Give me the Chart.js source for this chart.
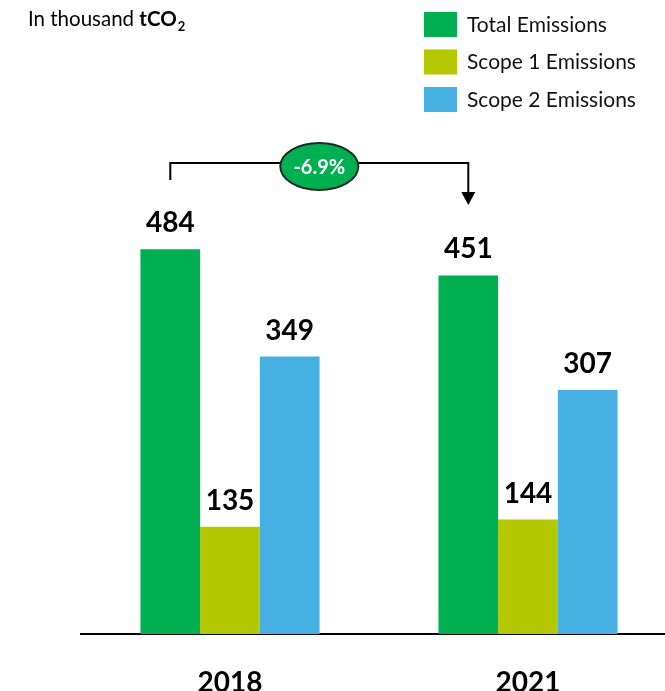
<!DOCTYPE html>
<html>
<head>
<meta charset="utf-8">
<script src="https://cdn.jsdelivr.net/npm/chart.js@4/dist/chart.umd.min.js"></script>
<style>
    html, body { margin: 0; padding: 0; overflow: hidden; background: #fff; }
    #wrap { width: 680px; height: 691px; position: relative; }
</style>
</head>
<body>
<div id="wrap"><canvas id="emissionsChart"></canvas></div>
<script>
const years = ['2018', '2021'];
const seriesNames = ['Total Emissions', 'Scope 1 Emissions', 'Scope 2 Emissions'];
const totalEmissions = [484, 451];
const scope1Emissions = [135, 144];
const scope2Emissions = [349, 307];
const changeLabel = '-6.9%';

const colors = ['#00b050', '#b4c800', '#45b0e1'];
const FONT = 'Lato, "Open Sans", sans-serif';

// Title, legend, value labels and the 2018 -> 2021 change bracket.
const decorations = {
    id: 'decorations',
    afterDatasetsDraw(chart) {
        const ctx = chart.ctx;
        ctx.save();

        // unit title
        ctx.fillStyle = '#000';
        ctx.textAlign = 'left';
        ctx.textBaseline = 'alphabetic';
        ctx.font = '20.5px ' + FONT;
        let x = 28;
        ctx.fillText('In thousand ', x, 26);
        x += ctx.measureText('In thousand ').width;
        ctx.font = 'bold 20.5px ' + FONT;
        ctx.fillText('tCO', x, 26);
        x += ctx.measureText('tCO').width;
        ctx.font = 'bold 13px ' + FONT;
        ctx.fillText('2', x + 1, 31);

        // legend
        ctx.font = '21px ' + FONT;
        ctx.textBaseline = 'middle';
        chart.data.datasets.forEach((ds, i) => {
            const y = 12 + i * 37.5;
            ctx.fillStyle = ds.backgroundColor;
            ctx.fillRect(424, y, 33, 25);
            ctx.fillStyle = '#111';
            ctx.fillText(ds.label, 467, y + 13);
        });

        // value labels
        ctx.font = 'bold 28px ' + FONT;
        ctx.fillStyle = '#000';
        ctx.textAlign = 'center';
        ctx.textBaseline = 'alphabetic';
        chart.data.datasets.forEach((ds, i) => {
            chart.getDatasetMeta(i).data.forEach((bar, j) => {
                ctx.fillText(ds.data[j], bar.x, bar.y - 17);
            });
        });

        // change bracket
        const green = chart.getDatasetMeta(0).data;
        const x1 = green[0].x, x2 = green[1].x;
        const yLine = 163;
        ctx.strokeStyle = '#000';
        ctx.lineWidth = 2;
        ctx.beginPath();
        ctx.moveTo(x1, 180);
        ctx.lineTo(x1, yLine);
        ctx.lineTo(x2, yLine);
        ctx.lineTo(x2, 194);
        ctx.stroke();
        ctx.beginPath();
        ctx.moveTo(x2 - 7, 192);
        ctx.lineTo(x2 + 7, 192);
        ctx.lineTo(x2, 205);
        ctx.closePath();
        ctx.fill();

        const cx = (x1 + x2) / 2;
        ctx.beginPath();
        ctx.ellipse(cx, 166.5, 39, 23.5, 0, 0, Math.PI * 2);
        ctx.fillStyle = colors[0];
        ctx.fill();
        ctx.strokeStyle = '#1a2e22';
        ctx.stroke();
        ctx.fillStyle = '#fff';
        ctx.font = 'bold 20px ' + FONT;
        ctx.textBaseline = 'middle';
        ctx.fillText(changeLabel, cx, 168);

        ctx.restore();
    },
};

new Chart(document.getElementById('emissionsChart'), {
    type: 'bar',
    data: {
        labels: years,
        datasets: [totalEmissions, scope1Emissions, scope2Emissions].map((data, i) => ({
            label: seriesNames[i],
            data,
            backgroundColor: colors[i],
            borderWidth: 0,
            categoryPercentage: 0.601,
            barPercentage: 1,
        })),
    },
    options: {
        responsive: true,
        maintainAspectRatio: false,
        animation: false,
        layout: { padding: { top: 157, left: 81, right: 3, bottom: 0 } },
        plugins: { legend: { display: false }, tooltip: { enabled: false } },
        scales: {
            y: { display: false, min: 0, max: 600 },
            x: {
                grid: { display: false },
                border: { display: true, color: '#000', width: 2 },
                ticks: { color: '#000', padding: 24, font: { family: FONT, size: 28, weight: 'bold' } },
                afterFit: (scale) => { scale.height = 57; },
            },
        },
    },
    plugins: [decorations],
});
</script>
</body>
</html>
